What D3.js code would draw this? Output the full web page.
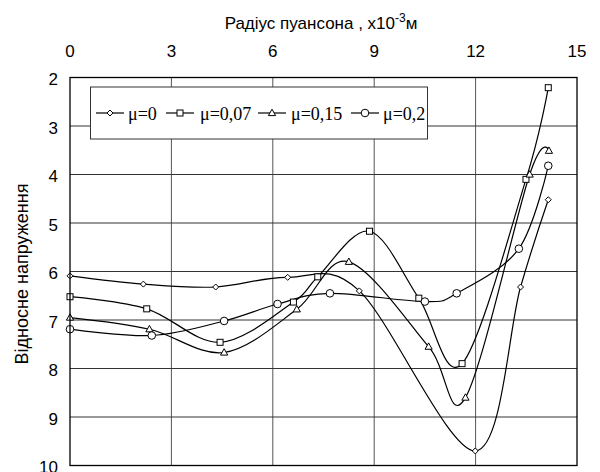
<!DOCTYPE html>
<html>
<head>
<meta charset="utf-8">
<script src="https://cdn.jsdelivr.net/npm/d3@7"></script>
<style>
  body { margin: 0; background: #fff; }
  svg { display: block; }
</style>
</head>
<body>
<svg id="chart" width="600" height="472"></svg>
<script>
// ---- data ----
const xTicks = [0, 3, 6, 9, 12, 15];
const yTicks = [2, 3, 4, 5, 6, 7, 8, 9, 10];

const seriesNames = ['μ=0', 'μ=0,07', 'μ=0,15', 'μ=0,2'];
const seriesMarkers = ['diamond', 'square', 'triangle', 'circle'];

const mu0x   = [0, 2.17, 4.31, 6.44, 8.56, 11.99, 13.33, 14.15];
const mu0y   = [6.09, 6.26, 6.32, 6.12, 6.40, 9.70, 6.32, 4.52];
const mu007x = [0, 2.27, 4.44, 6.61, 7.33, 8.86, 10.32, 11.6, 13.49, 14.15];
const mu007y = [6.52, 6.77, 7.46, 6.63, 6.11, 5.17, 6.55, 7.90, 4.10, 2.21];
const mu015x = [0, 2.35, 4.56, 6.71, 8.25, 10.61, 11.7, 13.6, 14.17];
const mu015y = [6.95, 7.19, 7.67, 6.78, 5.80, 7.55, 8.60, 4.00, 3.51];
const mu02x  = [0, 2.42, 4.56, 6.14, 7.69, 10.5, 11.44, 13.28, 14.15];
const mu02y  = [7.19, 7.32, 7.02, 6.67, 6.45, 6.62, 6.45, 5.53, 3.82];

const seriesX = [mu0x, mu007x, mu015x, mu02x];
const seriesY = [mu0y, mu007y, mu015y, mu02y];

const SANS = '"Liberation Sans", Arial, sans-serif';
const SERIF = '"Liberation Serif", "Times New Roman", "DejaVu Serif", serif';

// ---- layout ----
const svg = d3.select('#chart');
const m = { l: 70, r: 23, t: 77.5, b: 6.5 };
const W = 600, H = 472;
const x = d3.scaleLinear().domain([0, 15]).range([m.l, W - m.r]);
const y = d3.scaleLinear().domain([2, 10]).range([m.t, H - m.b]);

// gridlines
svg.append('g').selectAll('line')
  .data(xTicks.slice(1, -1))
  .join('line')
    .attr('x1', d => x(d)).attr('x2', d => x(d))
    .attr('y1', y(2)).attr('y2', y(10))
    .attr('stroke', '#555').attr('stroke-width', 1);
svg.append('g').selectAll('line')
  .data(yTicks.slice(1, -1))
  .join('line')
    .attr('x1', x(0)).attr('x2', x(15))
    .attr('y1', d => y(d)).attr('y2', d => y(d))
    .attr('stroke', '#333').attr('stroke-width', 1);

// top axis labels
svg.append('g').selectAll('text')
  .data(xTicks)
  .join('text')
    .attr('x', d => x(d)).attr('y', 57)
    .attr('text-anchor', 'middle')
    .attr('font-family', SANS).attr('font-size', 17)
    .text(d => d);

// left axis labels
svg.append('g').selectAll('text')
  .data(yTicks)
  .join('text')
    .attr('x', 58).attr('y', d => y(d) + 7.5)
    .attr('text-anchor', 'end')
    .attr('font-family', SANS).attr('font-size', 17)
    .text(d => d);

// axis titles
const title = svg.append('text')
  .attr('x', 321).attr('y', 29)
  .attr('text-anchor', 'middle')
  .attr('font-family', SANS).attr('font-size', 17);
title.append('tspan').text('Радіус пуансона , х10');
title.append('tspan').attr('dy', -7).attr('font-size', 12).text('-3');
title.append('tspan').attr('dy', 7).text('м');

svg.append('text')
  .attr('transform', 'translate(28,274) rotate(-90)')
  .attr('text-anchor', 'middle')
  .attr('font-family', SANS).attr('font-size', 18)
  .text('Відносне напруження');

// markers
function drawMarker(g, type, cx, cy) {
  if (type === 'circle') {
    g.append('circle').attr('cx', cx).attr('cy', cy).attr('r', 3.8)
      .attr('fill', '#fff').attr('stroke', '#000').attr('stroke-width', 1);
  } else if (type === 'square') {
    g.append('rect').attr('x', cx - 3).attr('y', cy - 3).attr('width', 6).attr('height', 6)
      .attr('fill', '#fff').attr('stroke', '#000').attr('stroke-width', 1);
  } else if (type === 'triangle') {
    g.append('path').attr('d', `M${cx},${cy - 3.8}L${cx + 3.6},${cy + 2.6}L${cx - 3.6},${cy + 2.6}Z`)
      .attr('fill', '#fff').attr('stroke', '#000').attr('stroke-width', 1);
  } else {
    g.append('path').attr('d', `M${cx},${cy - 3}L${cx + 3},${cy}L${cx},${cy + 3}L${cx - 3},${cy}Z`)
      .attr('fill', '#fff').attr('stroke', '#000').attr('stroke-width', 1);
  }
}

const line = d3.line()
  .x(d => x(d[0]))
  .y(d => y(d[1]))
  .curve(d3.curveCardinal.tension(0));

seriesNames.forEach((name, i) => {
  const pts = seriesX[i].map((v, j) => [v, seriesY[i][j]]);
  svg.append('path').datum(pts)
    .attr('fill', 'none').attr('stroke', '#000').attr('stroke-width', 1.2)
    .attr('d', line);
});
seriesNames.forEach((name, i) => {
  const g = svg.append('g');
  seriesX[i].forEach((v, j) => drawMarker(g, seriesMarkers[i], x(v), y(seriesY[i][j])));
});

// plot border
svg.append('rect')
  .attr('x', x(0)).attr('y', y(2))
  .attr('width', x(15) - x(0)).attr('height', y(10) - y(2))
  .attr('fill', 'none').attr('stroke', '#000').attr('stroke-width', 1.3);

// legend
const leg = svg.append('g');
leg.append('rect')
  .attr('x', 90.5).attr('y', 87).attr('width', 337).attr('height', 52)
  .attr('fill', '#fff').attr('stroke', '#333').attr('stroke-width', 1);
const legLineX = [96, 166, 258, 351];
const legTextX = [128, 200, 291, 383];
seriesNames.forEach((name, i) => {
  const ly = 113;
  leg.append('line')
    .attr('x1', legLineX[i]).attr('x2', legLineX[i] + 28)
    .attr('y1', ly).attr('y2', ly)
    .attr('stroke', '#000').attr('stroke-width', 1.2);
  drawMarker(leg, seriesMarkers[i], legLineX[i] + 14, ly);
  leg.append('text')
    .attr('x', legTextX[i]).attr('y', 120)
    .attr('font-family', SERIF).attr('font-size', 18)
    .text(name);
});
</script>
</body>
</html>
